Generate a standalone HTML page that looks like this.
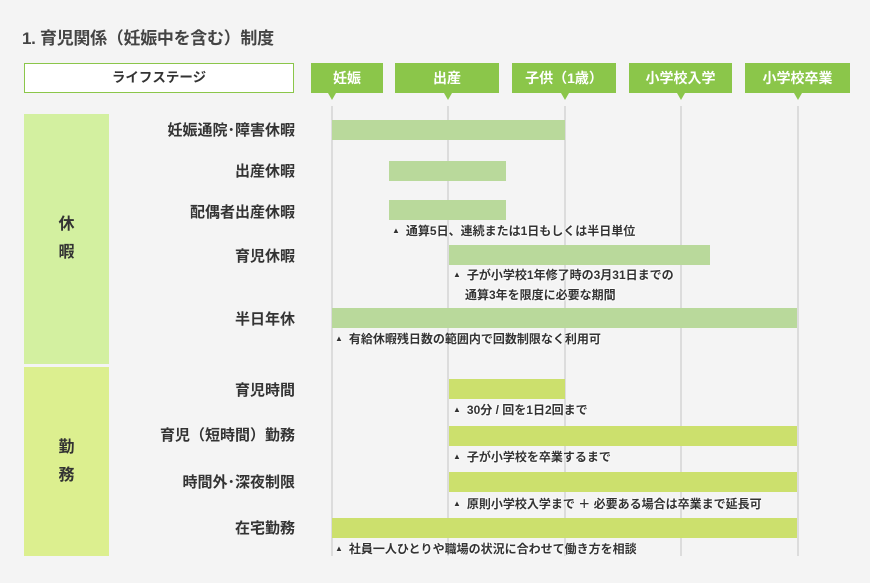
<!DOCTYPE html>
<html><head><meta charset="utf-8"><style>
*{margin:0;padding:0;box-sizing:border-box}
body{width:870px;height:583px;background:#f4f4f4;position:relative;overflow:hidden;font-family:"Liberation Sans","Noto Sans CJK JP",sans-serif;color:#333}
.a{position:absolute}
.title{left:22px;top:24px;font-size:17px;font-weight:bold;color:#444;white-space:nowrap;letter-spacing:-0.3px}
.ls{left:24px;top:63px;width:270px;height:30px;background:#fff;border:1px solid #8bc64a;text-align:center;line-height:28px;font-size:13.5px;font-weight:bold}
.tab{top:63px;height:30px;background:#8bc64a;color:#fff;font-size:14px;font-weight:bold;text-align:center;line-height:30px;white-space:nowrap}
.tri{top:93px;width:0;height:0;border-left:4px solid transparent;border-right:4px solid transparent;border-top:7px solid #8bc64a}
.vl{top:106px;width:2px;height:450px;background:#dcdcdc}
.blk{left:24px;width:85px;font-size:16px;font-weight:bold;text-align:center;line-height:28px;display:flex;flex-direction:column;justify-content:center}
.lab{right:575px;font-size:15px;font-weight:bold;white-space:nowrap;line-height:20px;transform:translateY(-10px)}
.bar{height:20px}
.lv{background:#b9d99b}
.wk{background:#cce06d}
.note{font-size:12px;font-weight:bold;white-space:nowrap;line-height:18px;text-shadow:0 0 2px #fff,0 0 2px #fff,0 0 2px #fff}
.note b{font-size:8px;margin-right:6px;position:relative;top:-2px}
</style></head><body>
<div class="a title">1. 育児関係（妊娠中を含む）制度</div>
<div class="a ls">ライフステージ</div>
<div class="a tab" style="left:311px;width:72px">妊娠</div>
<div class="a tab" style="left:395px;width:104px">出産</div>
<div class="a tab" style="left:512px;width:104px">子供（1歳）</div>
<div class="a tab" style="left:629px;width:103px">小学校入学</div>
<div class="a tab" style="left:745px;width:105px">小学校卒業</div>
<div class="a tri" style="left:328px"></div>
<div class="a tri" style="left:444px"></div>
<div class="a tri" style="left:561px"></div>
<div class="a tri" style="left:677px"></div>
<div class="a tri" style="left:794px"></div>
<div class="a vl" style="left:331px"></div>
<div class="a vl" style="left:447px"></div>
<div class="a vl" style="left:564px"></div>
<div class="a vl" style="left:680px"></div>
<div class="a vl" style="left:797px"></div>
<div class="a blk" style="top:114px;height:250px;background:#d3f0a0">休<br>暇</div>
<div class="a blk" style="top:367px;height:189px;background:#dcef8f">勤<br>務</div>
<div class="a lab" style="top:131px">妊娠通院･障害休暇</div>
<div class="a lab" style="top:172px">出産休暇</div>
<div class="a lab" style="top:213px">配偶者出産休暇</div>
<div class="a lab" style="top:257px">育児休暇</div>
<div class="a lab" style="top:320px">半日年休</div>
<div class="a lab" style="top:391px">育児時間</div>
<div class="a lab" style="top:436px">育児（短時間）勤務</div>
<div class="a lab" style="top:483px">時間外･深夜制限</div>
<div class="a lab" style="top:529px">在宅勤務</div>
<div class="a bar lv" style="left:332px;top:120px;width:233px"></div>
<div class="a bar lv" style="left:389px;top:161px;width:117px"></div>
<div class="a bar lv" style="left:389px;top:200px;width:117px"></div>
<div class="a note" style="left:392px;top:222px"><b>▲</b>通算5日、連続または1日もしくは半日単位</div>
<div class="a bar lv" style="left:449px;top:245px;width:261px"></div>
<div class="a note" style="left:453px;top:266px"><b>▲</b>子が小学校1年修了時の3月31日までの<br><span style="margin-left:12px">通算3年を限度に必要な期間</span></div>
<div class="a bar lv" style="left:332px;top:308px;width:465px"></div>
<div class="a note" style="left:335px;top:330px"><b>▲</b>有給休暇残日数の範囲内で回数制限なく利用可</div>
<div class="a bar wk" style="left:449px;top:379px;width:116px"></div>
<div class="a note" style="left:453px;top:401px"><b>▲</b>30分 / 回を1日2回まで</div>
<div class="a bar wk" style="left:449px;top:426px;width:348px"></div>
<div class="a note" style="left:453px;top:448px"><b>▲</b>子が小学校を卒業するまで</div>
<div class="a bar wk" style="left:449px;top:472px;width:348px"></div>
<div class="a note" style="left:453px;top:495px"><b>▲</b>原則小学校入学まで ＋ 必要ある場合は卒業まで延長可</div>
<div class="a bar wk" style="left:332px;top:518px;width:465px"></div>
<div class="a note" style="left:335px;top:540px"><b>▲</b>社員一人ひとりや職場の状況に合わせて働き方を相談</div>
</body></html>
